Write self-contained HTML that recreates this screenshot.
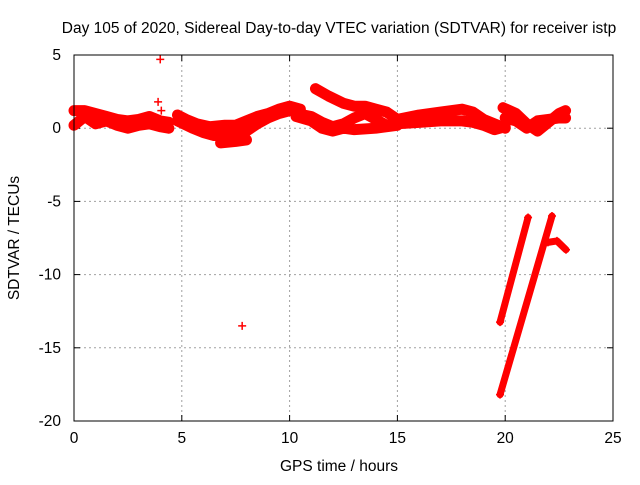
<!DOCTYPE html>
<html><head><meta charset="utf-8"><style>
body{margin:0;background:#fff;}
svg text{font-family:"Liberation Sans",sans-serif;font-size:15.5px;fill:#000;}
</style></head><body>
<svg id="chart" width="640" height="480">
<rect width="640" height="480" fill="#fff"/>
<text x="339" y="33" text-anchor="middle">Day 105 of 2020, Sidereal Day-to-day VTEC variation (SDTVAR) for receiver istp</text>
<text x="339" y="471" text-anchor="middle">GPS time / hours</text>
<text transform="translate(19,238) rotate(-90)" text-anchor="middle">SDTVAR / TECUs</text>
<g id="grid"></g>
<g id="ticks"></g>
<g id="marks"></g>
<rect x="74" y="55" width="539" height="366" fill="none" stroke="#000" stroke-width="1"/>
</svg>
<script>
const xTicks=[0,5,10,15,20,25];
const yTicks=[5,0,-5,-10,-15,-20];
const traceA1=[[0,1.2],[0.5,1.2],[1,1.0],[1.5,0.8],[2,0.6],[2.5,0.5],[3,0.6],[3.5,0.8],[4,0.5],[4.4,0.4]];
const traceA2=[[0,0.2],[0.5,0.8],[1,0.3],[1.5,0.5],[2,0.2],[2.5,0.0],[3,0.2],[3.5,0.3],[4,0.1],[4.4,0.0]];
const traceB1=[[4.8,0.9],[5.2,0.6],[5.7,0.3],[6.3,0.1],[7,0.2],[7.5,0.2],[8,0.5],[8.5,0.8],[9,1.0],[9.5,1.3],[10,1.5],[10.5,1.3]];
const traceB2=[[4.8,0.5],[5.5,0.0],[6,-0.3],[6.5,-0.5],[7,-0.5],[7.5,-0.4],[8,-0.2],[8.5,0.3],[9,0.7],[9.5,1.0],[10,1.2]];
const traceB3=[[6.8,-1.0],[7.5,-0.9],[8,-0.8]];
const traceC1=[[11.2,2.7],[11.8,2.2],[12.5,1.7],[13,1.5],[13.5,1.5],[14,1.3],[14.5,1.1],[15,0.6]];
const traceC2=[[10.3,1.0],[11,0.8],[11.5,0.4],[12,0.1],[12.5,0.3],[13,0.7],[13.5,1.0],[14,0.6],[14.5,0.2],[15,0.4]];
const traceC3=[[10.3,0.8],[11,0.5],[11.5,0.0],[12,-0.2],[12.5,0.0],[13,-0.1],[14,0.0],[15,0.2]];
const traceD1=[[15,0.6],[16,0.9],[17,1.1],[18,1.3],[18.5,1.1],[19,0.6],[19.5,0.3],[20,0.0]];
const traceD2=[[15,0.3],[16,0.4],[17,0.5],[18,0.5],[18.5,0.4],[19,0.2],[19.5,-0.1],[20,0.1]];
const traceE1=[[19.9,1.4],[20.5,1.0],[21,0.3],[21.5,-0.2],[22,0.4],[22.5,1.0],[22.8,1.2]];
const traceE2=[[20,0.7],[20.5,0.5],[21,0.0],[21.5,0.5],[22,0.6],[22.5,0.7],[22.8,0.7]];
const traceS1=[[19.76,-13.25],[21.06,-6.1]];
const traceS2=[[19.76,-18.2],[22.17,-6.0]];
const traceS3=[[21.98,-7.8],[22.4,-7.7],[22.82,-8.3]];
const outliers=[[4.0,4.7],[3.9,1.8],[4.05,1.2],[7.8,-13.5]];
const bandTraces=[traceA1,traceA2,traceB1,traceB2,traceB3,traceC1,traceC2,traceC3,traceD1,traceD2,traceE1,traceE2];
const steepTraces=[traceS1,traceS2,traceS3];

const X0=74,X1=613,Y0=421,Y1=55,xmin=0,xmax=25,ymin=-20,ymax=5;
const sx=v=>X0+(v-xmin)/(xmax-xmin)*(X1-X0);
const sy=v=>Y0-(v-ymin)/(ymax-ymin)*(Y0-Y1);
const NS="http://www.w3.org/2000/svg";
function mk(tag,attrs,parent){const e=document.createElementNS(NS,tag);for(const k in attrs)e.setAttribute(k,attrs[k]);parent.appendChild(e);return e;}
const grid=document.getElementById('grid'),ticks=document.getElementById('ticks'),marks=document.getElementById('marks');
xTicks.forEach(t=>{
  const x=sx(t);
  if(t>xmin&&t<xmax){const g=mk('line',{x1:x,x2:x,y1:Y1,y2:Y0,stroke:'#a0a0a0','stroke-dasharray':'2,3'},grid);
  
  }
  mk('line',{x1:x,x2:x,y1:Y0,y2:Y0-6,stroke:'#000'},ticks);
  mk('line',{x1:x,x2:x,y1:Y1,y2:Y1+6,stroke:'#000'},ticks);
  const l=mk('text',{x:x,y:Y0+22,'text-anchor':'middle'},ticks);l.textContent=t;
  
  
});
yTicks.forEach(t=>{
  const y=sy(t);
  if(t>ymin&&t<ymax){const g=mk('line',{x1:X0,x2:X1,y1:y,y2:y,stroke:'#a0a0a0','stroke-dasharray':'2,3'},grid);
  
  }
  mk('line',{x1:X0,x2:X0+6,y1:y,y2:y,stroke:'#000'},ticks);
  mk('line',{x1:X1,x2:X1-6,y1:y,y2:y,stroke:'#000'},ticks);
  const l=mk('text',{x:X0-13,y:y+5,'text-anchor':'end'},ticks);l.textContent=t;
  
  
});
function plus(x,y){
  const p=mk('path',{d:`M${x-4},${y}H${x+4}M${x},${y-4}V${y+4}`,stroke:'#f00','stroke-width':1.5},marks);
  
  
}
function drawTrace(tr,w){
  const pl=mk('polyline',{points:tr.map(p=>sx(p[0])+','+sy(p[1])).join(' '),fill:'none',stroke:'#f00','stroke-width':w,'stroke-linejoin':'round','stroke-linecap':'round'},marks);
  
  
  tr.forEach(p=>plus(sx(p[0]),sy(p[1])));
}
bandTraces.forEach(tr=>drawTrace(tr,11));
steepTraces.forEach(tr=>drawTrace(tr,7));
outliers.forEach(p=>plus(sx(p[0]),sy(p[1])));
</script>
</body></html>
